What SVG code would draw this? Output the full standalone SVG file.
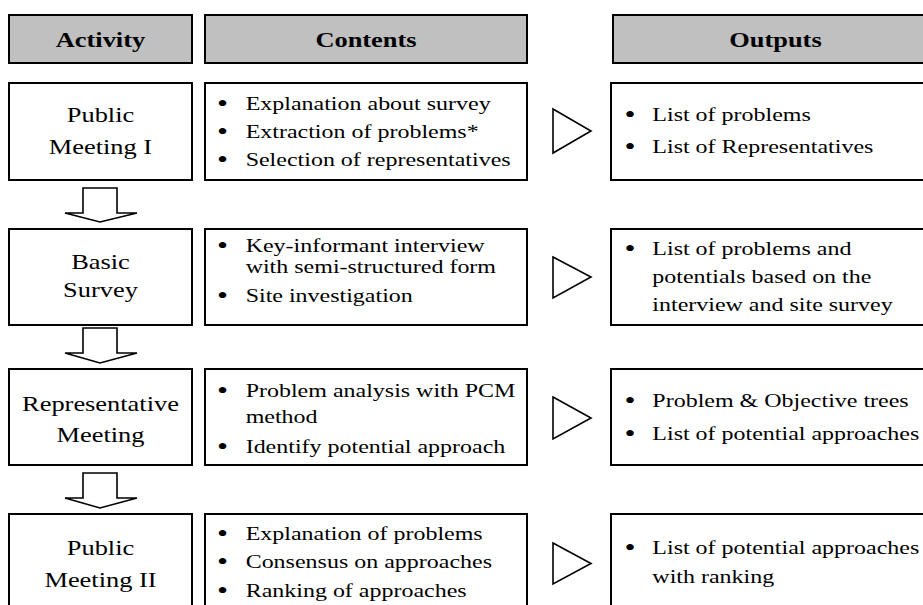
<svg xmlns="http://www.w3.org/2000/svg" width="923" height="605" viewBox="0 0 923 605">
<style>
.hdr{fill:#c0c0c0;stroke:#000;stroke-width:2}
.box{fill:#fff;stroke:#000;stroke-width:2}
.arr{fill:#fff;stroke:#000;stroke-width:1.6;stroke-linejoin:miter}
text{font-family:"Liberation Serif","Times New Roman",serif;fill:#000}
.h{font-size:22px;font-weight:bold;text-anchor:middle}
.a{font-size:22px;text-anchor:middle}
.t{font-size:19px}
.b{font-size:25px;text-anchor:middle}
</style>
<rect width="923" height="605" fill="#fff"/>
<g id="header-activity"><rect class="hdr" x="9" y="15" width="183" height="48"/><g transform="scale(1.2 1)"><text class="h" x="83.75" y="47">Activity</text></g></g>
<g id="header-contents"><rect class="hdr" x="205" y="15" width="322" height="48"/><g transform="scale(1.2 1)"><text class="h" x="305" y="47">Contents</text></g></g>
<g id="header-outputs"><rect class="hdr" x="613" y="15" width="330" height="48"/><g transform="scale(1.2 1)"><text class="h" x="646.25" y="47">Outputs</text></g></g>

<g id="act1"><rect class="box" x="9" y="83" width="183" height="97"/><g transform="scale(1.2 1)"><text class="a" x="83.75" y="122">Public</text><text class="a" x="83.75" y="154">Meeting I</text></g></g>
<g id="con1"><rect class="box" x="205" y="83" width="322" height="97"/><g transform="scale(1.263 1)">
<text class="b" x="176.2" y="112">•</text><text class="t" x="194.5" y="110">Explanation about survey</text>
<text class="b" x="176.2" y="140">•</text><text class="t" x="194.5" y="138">Extraction of problems*</text>
<text class="b" x="176.2" y="168">•</text><text class="t" x="194.5" y="166">Selection of representatives</text></g></g>
<g id="out1"><rect class="box" x="611" y="83" width="332" height="97"/><g transform="scale(1.263 1)">
<text class="b" x="498.8" y="123">•</text><text class="t" x="516.5" y="121">List of problems</text>
<text class="b" x="498.8" y="155">•</text><text class="t" x="516.5" y="153">List of Representatives</text></g></g>

<g id="act2"><rect class="box" x="9" y="229" width="183" height="96"/><g transform="scale(1.2 1)"><text class="a" x="83.75" y="269">Basic</text><text class="a" x="83.75" y="297">Survey</text></g></g>
<g id="con2"><rect class="box" x="205" y="229" width="322" height="96"/><g transform="scale(1.263 1)">
<text class="b" x="176.2" y="254">•</text><text class="t" x="194.5" y="252">Key-informant interview</text>
<text class="t" x="194.5" y="273">with semi-structured form</text>
<text class="b" x="176.2" y="304">•</text><text class="t" x="194.5" y="302">Site investigation</text></g></g>
<g id="out2"><rect class="box" x="611" y="229" width="332" height="96"/><g transform="scale(1.263 1)">
<text class="b" x="498.8" y="257">•</text><text class="t" x="516.5" y="255">List of problems and</text>
<text class="t" x="516.5" y="283">potentials based on the</text>
<text class="t" x="516.5" y="311">interview and site survey</text></g></g>

<g id="act3"><rect class="box" x="9" y="369" width="183" height="96"/><g transform="scale(1.2 1)"><text class="a" x="83.75" y="411">Representative</text><text class="a" x="83.75" y="442">Meeting</text></g></g>
<g id="con3"><rect class="box" x="205" y="369" width="322" height="96"/><g transform="scale(1.263 1)">
<text class="b" x="176.2" y="399">•</text><text class="t" x="194.5" y="397">Problem analysis with PCM</text>
<text class="t" x="194.5" y="423">method</text>
<text class="b" x="176.2" y="455">•</text><text class="t" x="194.5" y="453">Identify potential approach</text></g></g>
<g id="out3"><rect class="box" x="611" y="369" width="332" height="96"/><g transform="scale(1.263 1)">
<text class="b" x="498.8" y="409">•</text><text class="t" x="516.5" y="407">Problem &amp; Objective trees</text>
<text class="b" x="498.8" y="442">•</text><text class="t" x="516.5" y="440">List of potential approaches</text></g></g>

<g id="act4"><rect class="box" x="9" y="514" width="183" height="100"/><g transform="scale(1.2 1)"><text class="a" x="83.75" y="555">Public</text><text class="a" x="83.75" y="587">Meeting II</text></g></g>
<g id="con4"><rect class="box" x="205" y="514" width="322" height="100"/><g transform="scale(1.263 1)">
<text class="b" x="176.2" y="542">•</text><text class="t" x="194.5" y="540">Explanation of problems</text>
<text class="b" x="176.2" y="570">•</text><text class="t" x="194.5" y="568">Consensus on approaches</text>
<text class="b" x="176.2" y="599">•</text><text class="t" x="194.5" y="597">Ranking of approaches</text></g></g>
<g id="out4"><rect class="box" x="611" y="514" width="332" height="100"/><g transform="scale(1.263 1)">
<text class="b" x="498.8" y="556">•</text><text class="t" x="516.5" y="554">List of potential approaches</text>
<text class="t" x="516.5" y="583">with ranking</text></g></g>

<g id="connectors">
<polygon class="arr" points="83,188 117,188 117,213 137,213 100,222 65,213 83,213"/>
<polygon class="arr" points="83,328 117,328 117,353 137,353 100,363 65,353 83,353"/>
<polygon class="arr" points="83,473 117,473 117,498 137,498 100,508 65,498 83,498"/>
<polygon class="arr" points="553,109 591,131 553,153"/>
<polygon class="arr" points="553,257 591,277 553,298"/>
<polygon class="arr" points="553,397 591,418 553,439"/>
<polygon class="arr" points="553,543 591,563.5 553,584"/>
</g>
</svg>
